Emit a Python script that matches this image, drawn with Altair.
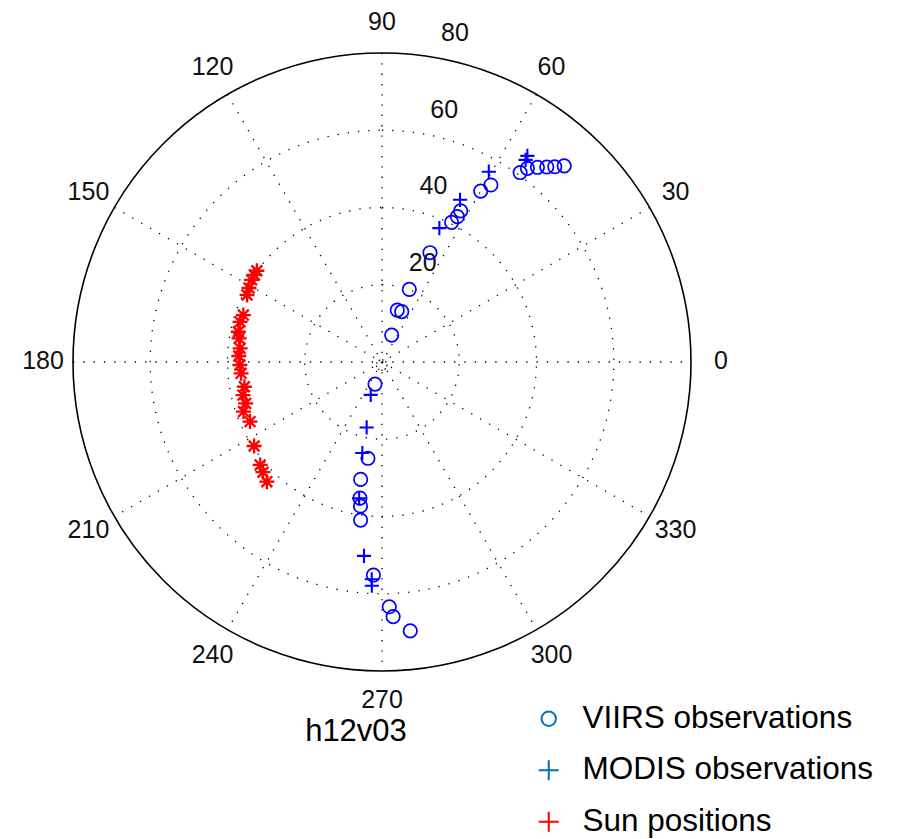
import math
import altair as alt
import pandas as pd

# ---------------- data (azimuth deg, zenith deg) ----------------
viirs_az = [47.1, 48.5, 49.8, 51.4, 53.1, 53.9, 58.4, 60.0, 62.5, 62.6, 63.5, 66.3, 69.4,
            68.6, 73.6, 70.2, 252.4, 261.7, 259.7, 260.8, 261.5, 262.3, 267.7, 271.7, 272.5, 276.0]
viirs_zen = [69.3, 67.5, 66.1, 64.5, 62.7, 60.7, 53.8, 51.1, 44.1, 42.4, 40.4, 30.9, 20.1,
             14.0, 14.0, 7.4, 6.0, 25.2, 30.9, 35.7, 37.7, 41.3, 55.2, 63.4, 66.0, 70.0]

modis_az = [54.8, 54.6, 60.7, 64.3, 66.8, 251.1, 256.8, 257.8, 260.5, 264.7, 267.3, 267.4]
modis_zen = [65.3, 64.2, 56.5, 46.6, 37.7, 9.0, 17.4, 24.1, 35.8, 50.4, 56.3, 58.0]

sun_az = [143.9, 145.7, 147.8, 150.9, 153.6, 161.3, 164.2, 168.1, 170.6, 174.5, 177.6,
          181.2, 184.6, 190.2, 193.4, 196.9, 199.7, 204.3, 213.3, 220.2, 222.8, 226.1]
sun_zen = [40.1, 40.0, 39.9, 39.4, 39.0, 37.9, 38.2, 38.0, 37.5, 36.9, 37.1,
           36.8, 36.6, 36.2, 37.0, 36.9, 38.1, 37.5, 39.6, 41.3, 42.0, 43.0]

origin_az = [264.0]
origin_zen = [0.8]

angle_ticks = [0, 30, 60, 90, 120, 150, 180, 210, 240, 270, 300, 330]
spoke_angles = [30, 60, 90, 120, 150, 180]
ring_ticks = [20, 40, 60]
radial_labels = [20, 40, 60, 80]
RMAX = 80

series_names = ["VIIRS observations", "MODIS observations", "Sun positions"]
legend_colors = ["#0072BD", "#0072BD", "#FF0000"]
tile_name = "h12v03"

# ---------------- layout ----------------
R_PX = 309
SIDE = 2 * R_PX
FONT = "Liberation Sans"

xs = alt.Scale(domain=[-RMAX, RMAX])
ys = alt.Scale(domain=[-RMAX, RMAX])
rs = alt.Scale(type="linear", domain=[0, RMAX], range=[0, R_PX])
X = alt.X("px:Q", scale=xs, axis=None)
Y = alt.Y("py:Q", scale=ys, axis=None)

PLUS = "M-1,0H1M0,-1V1"
STAR = "M-1,0H1M0,-1V1M-0.72,-0.72L0.72,0.72M-0.72,0.72L0.72,-0.72"
LCIRCLE = "M0.72,0A0.72,0.72,0,1,1,-0.72,0A0.72,0.72,0,1,1,0.72,0Z"


def polar(df, az="az", r="r"):
    return alt.Chart(df).transform_calculate(
        px=f"datum.{r} * cos(datum.{az} * PI / 180)",
        py=f"datum.{r} * sin(datum.{az} * PI / 180)",
    )


# rings
ring_df = pd.DataFrame({"r": ring_ticks, "px": 0, "py": 0})
rings = alt.Chart(ring_df).mark_arc(
    fillOpacity=0, stroke="#000", strokeWidth=1.3, strokeDash=[1.3, 9]
).encode(x=X, y=Y, radius=alt.Radius("r:Q", scale=rs, stack=False),
         theta=alt.value(0), theta2=alt.value(2 * math.pi))

outer_df = pd.DataFrame({"r": [RMAX], "px": 0, "py": 0})
outer = alt.Chart(outer_df).mark_arc(
    fillOpacity=0, stroke="#000", strokeWidth=1.6
).encode(x=X, y=Y, radius=alt.Radius("r:Q", scale=rs, stack=False),
         theta=alt.value(0), theta2=alt.value(2 * math.pi))

# spokes
spoke_df = pd.DataFrame({"az": spoke_angles})
spokes = alt.Chart(spoke_df).transform_calculate(
    px=f"{RMAX} * cos(datum.az * PI / 180)",
    py=f"{RMAX} * sin(datum.az * PI / 180)",
    qx="-datum.px",
    qy="-datum.py",
).mark_rule(stroke="#000", strokeWidth=1.3, strokeDash=[1.3, 9]).encode(
    x=X, y=Y, x2="qx:Q", y2="qy:Q")

# angle labels
ang_df = pd.DataFrame({"az": angle_ticks, "r": [RMAX * 1.097] * len(angle_ticks),
                       "lab": [str(a) for a in angle_ticks]})
ang_labels = polar(ang_df).mark_text(
    font=FONT, fontSize=25, color="#111", align="center", baseline="middle", dy=-1
).encode(x=X, y=Y, text="lab:N")

# radial labels
rad_df = pd.DataFrame({"r": radial_labels, "az": [82] * len(radial_labels),
                       "lab": [str(v) for v in radial_labels]})
rad_labels = polar(rad_df).mark_text(
    font=FONT, fontSize=25, color="#111", align="center", baseline="middle",
    dx=30, dy=-23
).encode(x=X, y=Y, text="lab:N")

# data marks
viirs = polar(pd.DataFrame({"az": viirs_az, "r": viirs_zen})).mark_point(
    shape="circle", filled=False, stroke="#0000FF", strokeWidth=1.7, size=180, opacity=1
).encode(x=X, y=Y)

modis = polar(pd.DataFrame({"az": modis_az, "r": modis_zen})).mark_point(
    shape=PLUS, filled=False, stroke="#0000FF", strokeWidth=2.1, size=200, opacity=1
).encode(x=X, y=Y)

sun = polar(pd.DataFrame({"az": sun_az, "r": sun_zen})).mark_point(
    shape=STAR, filled=False, stroke="#FF0000", strokeWidth=2.3, size=225, opacity=1
).encode(x=X, y=Y)

origin = polar(pd.DataFrame({"az": origin_az, "r": origin_zen})).mark_point(
    shape="circle", filled=False, stroke="#000", strokeWidth=1.2, strokeDash=[1.5, 2],
    size=110, opacity=1
).encode(x=X, y=Y)

# tile label
tile_df = pd.DataFrame({"az": [270], "r": [RMAX * 1.097], "lab": [tile_name]})
tile = polar(tile_df).mark_text(
    font=FONT, fontSize=31, color="#000", align="center", baseline="middle",
    dx=-26, dy=31
).encode(x=X, y=Y, text="lab:N")

# legend (carrier layer, invisible points)
leg = alt.Legend(
    orient="none", legendX=460, legendY=650, title=None,
    labelFont=FONT, labelFontSize=31.5, labelColor="#000", labelLimit=0,
    symbolSize=400, symbolStrokeWidth=2, symbolOpacity=1, symbolFillColor="transparent",
    labelOffset=18, rowPadding=18.5, padding=0,
)
leg_df = pd.DataFrame({"series": series_names, "px": [0] * 3, "py": [0] * 3})
legend_layer = alt.Chart(leg_df).mark_point(filled=False, size=0, strokeWidth=2).encode(
    x=X, y=Y,
    color=alt.Color("series:N", scale=alt.Scale(domain=series_names, range=legend_colors),
                    sort=series_names, legend=leg),
    shape=alt.Shape("series:N", scale=alt.Scale(domain=series_names,
                                                range=[LCIRCLE, PLUS, PLUS]),
                    sort=series_names, legend=leg),
)

chart = alt.layer(
    rings, outer, spokes, ang_labels, rad_labels, origin, sun, modis, viirs, tile, legend_layer
).properties(
    width=SIDE, height=SIDE,
    background="white",
    autosize=alt.AutoSizeParams(type="none"),
    padding={"left": 65, "top": 45, "right": 196, "bottom": 168},
).configure_view(strokeOpacity=0, strokeWidth=0)

chart.save("out.html", embed_options={"renderer": "svg", "actions": False})
